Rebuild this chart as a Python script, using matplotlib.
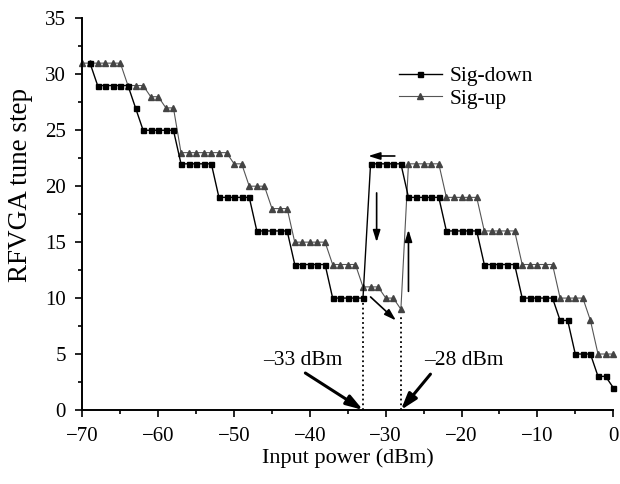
import numpy as np
import matplotlib
matplotlib.use('Agg')
import matplotlib.pyplot as plt
from matplotlib.ticker import MultipleLocator

# input power (dBm), one point per dB
down_x = np.arange(-69, 1)
up_x = np.arange(-70, 1)

sig_down = [31,
            29, 29, 29, 29, 29,
            27,
            25, 25, 25, 25, 25,
            22, 22, 22, 22, 22,
            19, 19, 19, 19, 19,
            16, 16, 16, 16, 16,
            13, 13, 13, 13, 13,
            10, 10, 10, 10, 10,
            22, 22, 22, 22, 22,
            19, 19, 19, 19, 19,
            16, 16, 16, 16, 16,
            13, 13, 13, 13, 13,
            10, 10, 10, 10, 10,
            8, 8,
            5, 5, 5,
            3, 3,
            2]

sig_up = [31, 31, 31, 31, 31, 31,
          29, 29, 29,
          28, 28,
          27, 27,
          23, 23, 23, 23, 23, 23, 23,
          22, 22,
          20, 20, 20,
          18, 18, 18,
          15, 15, 15, 15, 15,
          13, 13, 13, 13,
          11, 11, 11,
          10, 10,
          9,
          22, 22, 22, 22, 22,
          19, 19, 19, 19, 19,
          16, 16, 16, 16, 16,
          13, 13, 13, 13, 13,
          10, 10, 10, 10,
          8,
          5, 5, 5]

plt.rcParams['font.family'] = ['Liberation Serif', 'DejaVu Serif']
plt.rcParams['axes.unicode_minus'] = True

fig, ax = plt.subplots(figsize=(6.2, 4.84), dpi=100)
fig.subplots_adjust(left=0.133, right=0.989, top=0.962, bottom=0.153)

ax.plot(down_x, sig_down, color='black', lw=1.0, marker='s', ms=3.6,
        mfc='black', mec='black', label='Sig-down', clip_on=False, zorder=3)
ax.plot(up_x, sig_up, color='#555555', lw=0.8, marker='^', ms=4.4,
        mfc='#444444', mec='#444444', label='Sig-up', clip_on=False, zorder=2)

# dotted guides at the switching points
ax.plot([-33, -33], [0, 10], ls=':', color='black', lw=1.3)
ax.plot([-28, -28], [0, 8.5], ls=':', color='black', lw=1.3)

thin = dict(arrowstyle='-|>,head_length=0.7,head_width=0.22', lw=1.2,
            color='black', shrinkA=0, shrinkB=0)
ax.annotate('', xy=(-32.3, 22.7), xytext=(-28.8, 22.7), arrowprops=thin)
ax.annotate('', xy=(-31.2, 15.0), xytext=(-31.2, 19.4), arrowprops=thin)
ax.annotate('', xy=(-27.0, 16.1), xytext=(-27.0, 10.6), arrowprops=thin)
ax.annotate('', xy=(-28.65, 8.0), xytext=(-32.0, 10.1), arrowprops=thin)

thick = dict(arrowstyle='-|>,head_length=1.0,head_width=0.32', lw=2.2,
             color='black', shrinkA=0, shrinkB=0)
ax.annotate('', xy=(-33, 0), xytext=(-40.6, 3.3), arrowprops=thick)
ax.annotate('', xy=(-28, 0), xytext=(-24.1, 3.2), arrowprops=thick)
ax.text(-40.9, 4.4, '\u201333 dBm', fontsize=15.5, ha='center', va='center')
ax.text(-19.7, 4.4, '\u201328 dBm', fontsize=15.5, ha='center', va='center')

ax.set_xlim(-70, 0)
ax.set_ylim(0, 35)
ax.xaxis.set_major_locator(MultipleLocator(10))
ax.xaxis.set_minor_locator(MultipleLocator(5))
ax.yaxis.set_major_locator(MultipleLocator(5))
ax.yaxis.set_minor_locator(MultipleLocator(2.5))
ax.tick_params(which='major', direction='out', length=5, width=1.2,
               labelsize=15, pad=7)
ax.tick_params(which='minor', direction='out', length=3, width=1.2)
for s in ['top', 'right']:
    ax.spines[s].set_visible(False)
for s in ['left', 'bottom']:
    ax.spines[s].set_linewidth(1.4)

ax.set_xlabel('Input power (dBm)', fontsize=16, labelpad=2)
ax.set_ylabel('RFVGA tune step', fontsize=19.5)
ax.yaxis.set_label_coords(-0.093, 0.575)

ax.legend(loc='upper left', bbox_to_anchor=(0.576, 0.905), frameon=False,
          fontsize=15.5, numpoints=1, handlelength=2.0, handletextpad=0.35,
          borderpad=0, labelspacing=0.1)

plt.savefig('out.png', dpi=100)
